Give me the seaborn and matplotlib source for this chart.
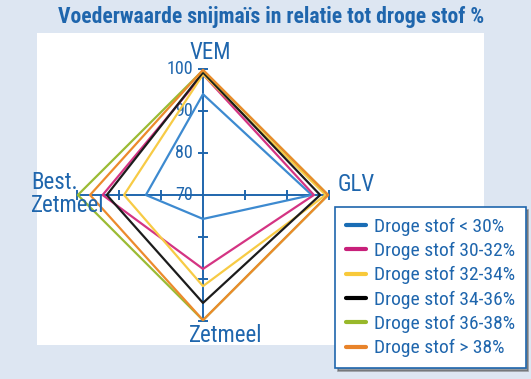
import numpy as np
import pandas as pd
import matplotlib
matplotlib.use('Agg')
import matplotlib.pyplot as plt
import seaborn as sns
from matplotlib.patches import Rectangle
from matplotlib.lines import Line2D

sns.set_style('white')
plt.rcParams['font.family'] = ['Roboto Condensed', 'DejaVu Sans']

# assen (tegen de klok in, start rechts)
axes_names = ['GLV', 'VEM', 'Best.\nZetmeel', 'Zetmeel']
axes_angles = [0, 90, 180, 270]

groups = ['Droge stof < 30%', 'Droge stof 30-32%', 'Droge stof 32-34%',
          'Droge stof 34-36%', 'Droge stof 36-38%', 'Droge stof > 38%']
# per groep: VEM, GLV, Zetmeel, Best. Zetmeel
vem = [94.0, 98.7, 98.7, 99.2, 99.7, 99.8]
glv = [95.9, 96.4, 99.2, 97.9, 99.8, 99.8]
zetmeel = [75.7, 87.6, 91.7, 95.7, 99.8, 99.8]
best_zetmeel = [83.6, 93.9, 88.8, 92.9, 99.8, 96.9]
colors = ['#3d8ad0', '#d43483', '#f7cb45', '#1c1c1c', '#9bbb34', '#ec8a2c']
legend_colors = ['#1a6db5', '#c8207a', '#f8c93a', '#000000', '#98b82a', '#e8832a']

ticks = [70, 80, 90, 100]
blue = '#1f66ad'
bg = '#dde6f2'

rows = []
for i, g in enumerate(groups):
    vals = [(90, vem[i]), (0, glv[i]), (270, zetmeel[i]), (180, best_zetmeel[i]), (90, vem[i])]
    for k, (a, v) in enumerate(vals):
        rows.append({'group': g, 'order': k, 'theta': np.deg2rad(a), 'r': v})
df = pd.DataFrame(rows)

W, H = 531, 379
fig = plt.figure(figsize=(W / 100, H / 100), dpi=100, facecolor=bg)
fig.patches.append(Rectangle((37 / W, 1 - 345 / H), (484 - 37) / W, (345 - 33) / H,
                             transform=fig.transFigure, facecolor='white',
                             edgecolor='none', zorder=-5))

cx, cy, R = 203, 195, 126
ax = fig.add_axes([(cx - R) / W, 1 - (cy + R) / H, 2 * R / W, 2 * R / H],
                  projection='polar', zorder=2)
ax.set_facecolor('none')

# assen met streepjes
for a in axes_angles:
    t = np.deg2rad(a)
    ax.plot([t, t], [70, 100], color=blue, lw=1.4, zorder=1, clip_on=False)
    ax.plot([t] * 3, ticks[1:], ls='none', marker='_' if a in (90, 270) else '|',
            ms=7.5, mew=1.4, color=blue, zorder=1, clip_on=False)

sns.lineplot(data=df, x='theta', y='r', hue='group', hue_order=groups,
             palette=colors, sort=False, estimator=None, units='group',
             lw=1.6, legend=False, ax=ax, zorder=3)
for ln in ax.lines:
    ln.set_clip_on(False)

ax.set_ylim(70, 100)
ax.grid(False)
ax.set_xticks([])
ax.set_yticks([])
ax.spines['polar'].set_visible(False)
ax.set_xlabel('')
ax.set_ylabel('')

for v in ticks:
    ax.annotate(str(v), (np.pi / 2, v), xytext=(-10, 0), textcoords='offset pixels',
                ha='right', va='center', fontsize=13, color=blue, zorder=2)

label_pos = {'VEM': (7, 5, 'center', 'bottom'), 'GLV': (9, 10, 'left', 'center'),
             'Best.\nZetmeel': (-46, 1, 'left', 'center'), 'Zetmeel': (23, -3, 'center', 'top')}
for name, a in zip(axes_names, axes_angles):
    dx, dy, ha, va = label_pos[name]
    ax.annotate(name, (np.deg2rad(a), 100), xytext=(dx, dy), textcoords='offset pixels',
                ha=ha, va=va, fontsize=16.5, color=blue,
                linespacing=0.95, annotation_clip=False)

fig.text(271 / W, 1 - 17 / H, 'Voederwaarde snijmaïs in relatie tot droge stof %',
         ha='center', va='center', fontsize=15.6, fontweight='bold', color=blue)

handles = [Line2D([], [], color=c, lw=3) for c in legend_colors]
leg = fig.legend(handles, groups, loc='upper left',
                 bbox_to_anchor=(335 / W, 1 - 207 / H), frameon=True, fontsize=14,
                 handlelength=1.05, handletextpad=0.4, labelspacing=0.32,
                 borderpad=0.55, borderaxespad=0, fancybox=False, shadow=True)
leg.get_frame().set_edgecolor(blue)
leg.get_frame().set_linewidth(1.2)
for t in leg.get_texts():
    t.set_color(blue)

fig.savefig('out.png', dpi=100, facecolor=bg)
